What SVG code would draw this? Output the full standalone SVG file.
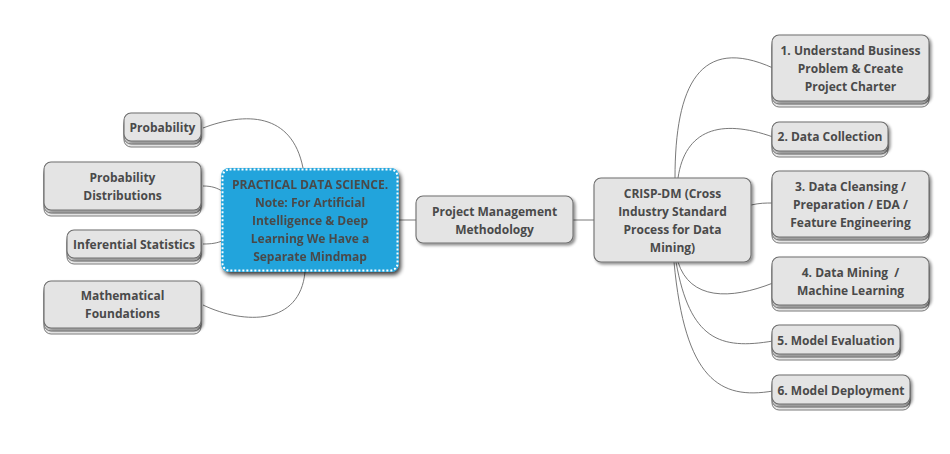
<svg xmlns="http://www.w3.org/2000/svg" width="950" height="454" viewBox="0 0 950 454">
<defs>
<filter id="sh" x="-10%" y="-10%" width="130%" height="140%">
<feGaussianBlur in="SourceAlpha" stdDeviation="1.5"/>
<feOffset dx="1.5" dy="2" result="b"/>
<feComponentTransfer><feFuncA type="linear" slope="0.45"/></feComponentTransfer>
<feMerge><feMergeNode/><feMergeNode in="SourceGraphic"/></feMerge>
</filter>
<filter id="shc" x="-10%" y="-10%" width="130%" height="140%">
<feGaussianBlur in="SourceAlpha" stdDeviation="2"/>
<feOffset dx="2" dy="3" result="b"/>
<feComponentTransfer><feFuncA type="linear" slope="0.75"/></feComponentTransfer>
<feMerge><feMergeNode/><feMergeNode in="SourceGraphic"/></feMerge>
</filter>
</defs>
<style>
.bx{fill:#e4e4e4;stroke:#6e6e6e;stroke-width:1.1}
.st{fill:#ebebeb;stroke:#7a7a7a;stroke-width:1}
.t{font-family:"Open Sans","Noto Sans","Liberation Sans",sans-serif;font-weight:bold;font-size:12px;fill:#4a4a4a;text-anchor:middle}
.c{fill:none;stroke:#6a6a6a;stroke-width:0.9}
</style>
<rect width="950" height="454" fill="#ffffff"/>
<g id="connectors">
<path class="c" d="M203,128 C245,112 292,112 303,168"/>
<path class="c" d="M203,186 C212,186 217,188 222,191"/>
<path class="c" d="M203,244 C212,244 217,243 222,241"/>
<path class="c" d="M203,305 C245,325 300,325 305,272"/>
<path class="c" d="M399,220 L416,220"/>
<path class="c" d="M573,220 L594,220"/>
<path class="c" d="M675,178 C675,85 700,35 773,68"/>
<path class="c" d="M678,178 C685,130 720,118 773,137"/>
<path class="c" d="M751,205 C760,203 765,203 773,203"/>
<path class="c" d="M678,262 C690,300 730,300 773,283"/>
<path class="c" d="M676,262 C690,340 720,350 773,341"/>
<path class="c" d="M674,262 C685,380 720,400 773,391"/>
</g>
<g id="central" filter="url(#shc)">
<rect x="221" y="168" width="178" height="104" rx="8" fill="#22a4dc"/>
<rect x="222.5" y="169.5" width="175" height="101" rx="7" fill="none" stroke="#ffffff" stroke-width="2" stroke-dasharray="2,2"/>
<text class="t" x="310" y="189">PRACTICAL DATA SCIENCE.</text>
<text class="t" x="310" y="207">Note: For Artificial</text>
<text class="t" x="310" y="225">Intelligence &amp; Deep</text>
<text class="t" x="310" y="243">Learning We Have a</text>
<text class="t" x="310" y="261">Separate Mindmap</text>
</g>
<g id="probability">
<rect class="st" x="124" y="119" width="77" height="28" rx="7"/>
<rect class="st" x="124" y="116" width="77" height="28" rx="7"/>
<rect class="bx" x="124" y="113" width="77" height="28" rx="7" filter="url(#sh)"/>
<text class="t" x="162.5" y="131.5">Probability</text>
</g>
<g id="prob-dist">
<rect class="st" x="44" y="168" width="157" height="48" rx="7"/>
<rect class="st" x="44" y="165" width="157" height="48" rx="7"/>
<rect class="bx" x="44" y="162" width="157" height="48" rx="7" filter="url(#sh)"/>
<text class="t" x="122.5" y="181.5">Probability</text>
<text class="t" x="122.5" y="199.5">Distributions</text>
</g>
<g id="inferential">
<rect class="st" x="67" y="236" width="134" height="28" rx="7"/>
<rect class="st" x="67" y="233" width="134" height="28" rx="7"/>
<rect class="bx" x="67" y="230" width="134" height="28" rx="7" filter="url(#sh)"/>
<text class="t" x="134" y="248.5">Inferential Statistics</text>
</g>
<g id="math">
<rect class="st" x="44" y="287" width="157" height="47" rx="7"/>
<rect class="st" x="44" y="284" width="157" height="47" rx="7"/>
<rect class="bx" x="44" y="281" width="157" height="47" rx="7" filter="url(#sh)"/>
<text class="t" x="122.5" y="299.5">Mathematical</text>
<text class="t" x="122.5" y="317.5">Foundations</text>
</g>
<g id="pmm">
<rect class="bx" x="416" y="196" width="157" height="47" rx="7" filter="url(#sh)"/>
<text class="t" x="494.5" y="215.5">Project Management</text>
<text class="t" x="494.5" y="233.5">Methodology</text>
</g>
<g id="crisp">
<rect class="bx" x="594" y="178" width="157" height="84" rx="7" filter="url(#sh)"/>
<text class="t" x="672.5" y="197.5">CRISP-DM (Cross</text>
<text class="t" x="672.5" y="215.5">Industry Standard</text>
<text class="t" x="672.5" y="233.5">Process for Data</text>
<text class="t" x="672.5" y="251.5">Mining)</text>
</g>
<g id="step1">
<rect class="st" x="772" y="41" width="157" height="66" rx="7"/>
<rect class="st" x="772" y="38" width="157" height="66" rx="7"/>
<rect class="bx" x="772" y="35" width="157" height="66" rx="7" filter="url(#sh)"/>
<text class="t" x="850.5" y="54.5">1. Understand Business</text>
<text class="t" x="850.5" y="72.5">Problem &amp; Create</text>
<text class="t" x="850.5" y="90.5">Project Charter</text>
</g>
<g id="step2">
<rect class="st" x="772" y="128" width="116" height="29" rx="7"/>
<rect class="st" x="772" y="125" width="116" height="29" rx="7"/>
<rect class="bx" x="772" y="122" width="116" height="29" rx="7" filter="url(#sh)"/>
<text class="t" x="830" y="140.5">2. Data Collection</text>
</g>
<g id="step3">
<rect class="st" x="772" y="177" width="157" height="66" rx="7"/>
<rect class="st" x="772" y="174" width="157" height="66" rx="7"/>
<rect class="bx" x="772" y="171" width="157" height="66" rx="7" filter="url(#sh)"/>
<text class="t" x="850.5" y="190.5">3. Data Cleansing /</text>
<text class="t" x="850.5" y="208.5">Preparation / EDA /</text>
<text class="t" x="850.5" y="226.5">Feature Engineering</text>
</g>
<g id="step4">
<rect class="st" x="772" y="263" width="157" height="48" rx="7"/>
<rect class="st" x="772" y="260" width="157" height="48" rx="7"/>
<rect class="bx" x="772" y="257" width="157" height="48" rx="7" filter="url(#sh)"/>
<text class="t" x="850.5" y="276.5" xml:space="preserve">4. Data Mining  /</text>
<text class="t" x="850.5" y="294.5">Machine Learning</text>
</g>
<g id="step5">
<rect class="st" x="772" y="331" width="128" height="29" rx="7"/>
<rect class="st" x="772" y="328" width="128" height="29" rx="7"/>
<rect class="bx" x="772" y="325" width="128" height="29" rx="7" filter="url(#sh)"/>
<text class="t" x="836" y="344.5">5. Model Evaluation</text>
</g>
<g id="step6">
<rect class="st" x="772" y="381" width="138" height="29" rx="7"/>
<rect class="st" x="772" y="378" width="138" height="29" rx="7"/>
<rect class="bx" x="772" y="375" width="138" height="29" rx="7" filter="url(#sh)"/>
<text class="t" x="841" y="394.5">6. Model Deployment</text>
</g>
</svg>
